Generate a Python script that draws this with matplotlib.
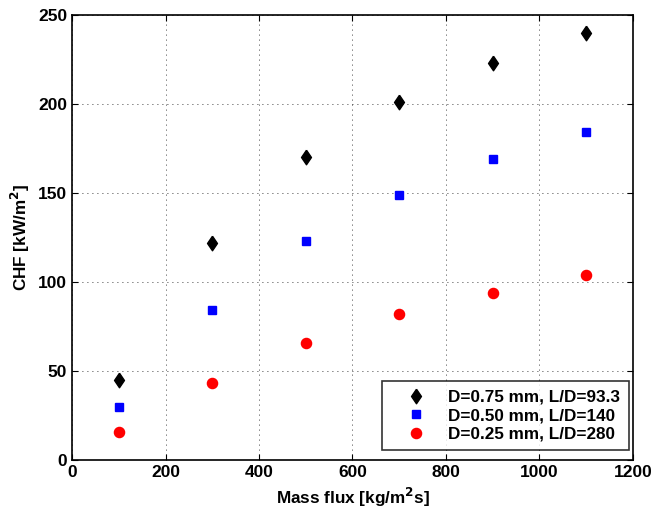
import matplotlib
matplotlib.use("Agg")
import matplotlib.pyplot as plt

plt.rcParams['font.family'] = ['Liberation Sans', 'DejaVu Sans']
plt.rcParams['font.weight'] = 'bold'
plt.rcParams['mathtext.default'] = 'bf'

mass_flux = [100, 300, 500, 700, 900, 1100]
chf_075 = [45, 122, 170, 201, 223, 240]
chf_050 = [30, 84, 123, 149, 169, 184]
chf_025 = [15.5, 43, 65.5, 82, 94, 104]
labels = ['D=0.75 mm, L/D=93.3', 'D=0.50 mm, L/D=140', 'D=0.25 mm, L/D=280']

diamond = [(0, 1), (0.68, 0), (0, -1), (-0.68, 0), (0, 1)]

fig = plt.figure(figsize=(6.56, 5.11), dpi=100)
ax = fig.add_axes([0.1098, 0.0998, 0.855, 0.8708])

ax.plot(mass_flux, chf_075, linestyle='none', marker=diamond, color='black', markersize=10.5, label=labels[0])
ax.plot(mass_flux, chf_050, linestyle='none', marker='s', color='#0000ff', markersize=6.2, label=labels[1])
ax.plot(mass_flux, chf_025, linestyle='none', marker='o', color='#ff0000', markersize=7.3, label=labels[2])

ax.set_xlim(0, 1200)
ax.set_ylim(0, 250)
ax.set_xticks(range(0, 1201, 200))
ax.set_yticks(range(0, 251, 50))
ax.grid(True, color='black', linestyle=(0, (1, 5)), linewidth=0.6)
ax.tick_params(direction='in', length=4, width=0.8, labelsize=12.5, top=True, right=True)
for lab in ax.get_xticklabels() + ax.get_yticklabels():
    lab.set_fontweight('bold')
for s in ax.spines.values():
    s.set_linewidth(1.2)

ax.set_xlabel('Mass flux [kg/m$^2$s]', fontsize=12.3, fontweight='bold')
ax.set_ylabel('CHF [kW/m$^2$]', fontsize=12.3, fontweight='bold')

leg = ax.legend(loc='lower right', fontsize=12.3, frameon=True, fancybox=False,
                edgecolor='black', borderpad=0.5, handlelength=3.0,
                handletextpad=0.4, labelspacing=0.2, borderaxespad=0,
                bbox_to_anchor=(0.993, 0.022))
leg.get_frame().set_linewidth(1.2)
for t in leg.get_texts():
    t.set_fontweight('bold')

fig.savefig('out.png', dpi=100)
